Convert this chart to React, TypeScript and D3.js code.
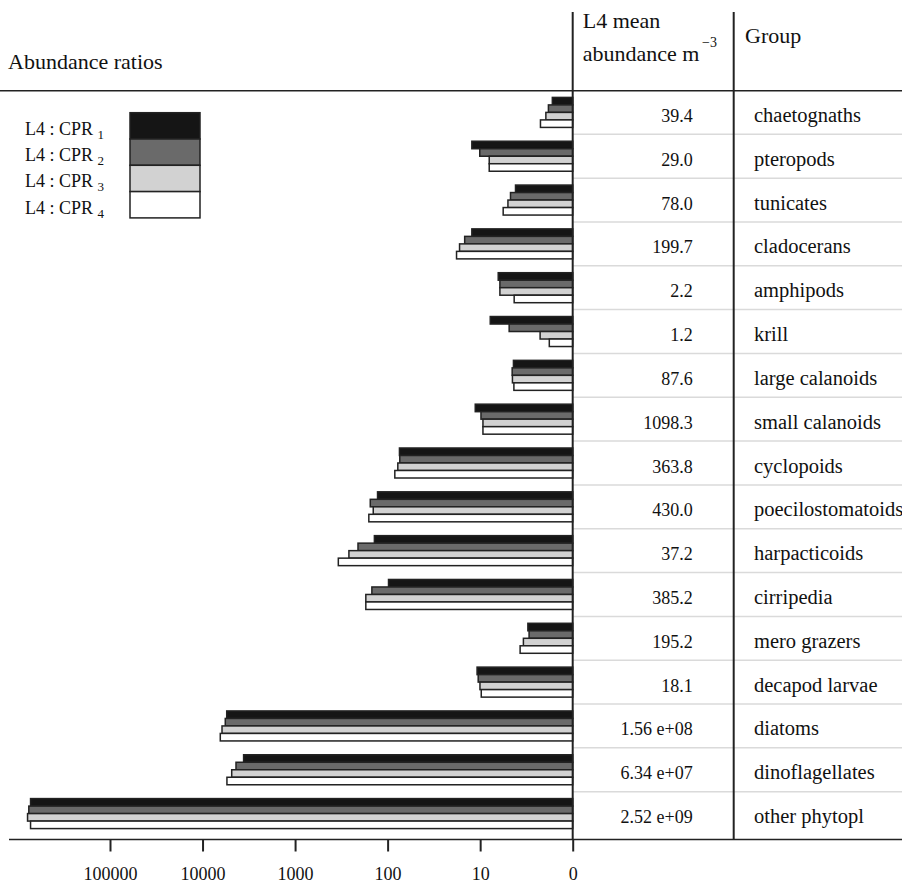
import React, { useRef, useEffect } from 'react';
import * as d3 from 'd3';

const groups = [
  'chaetognaths', 'pteropods', 'tunicates', 'cladocerans', 'amphipods', 'krill',
  'large calanoids', 'small calanoids', 'cyclopoids', 'poecilostomatoids',
  'harpacticoids', 'cirripedia', 'mero grazers', 'decapod larvae', 'diatoms',
  'dinoflagellates', 'other phytopl',
];
const meanAbundance = [
  '39.4', '29.0', '78.0', '199.7', '2.2', '1.2', '87.6', '1098.3', '363.8', '430.0',
  '37.2', '385.2', '195.2', '18.1', '1.56 e+08', '6.34 e+07', '2.52 e+09',
];
const series = ['1', '2', '3', '4'];
const cpr1 = [1.66, 12.3, 4.15, 12.3, 6.38, 7.78, 4.37, 11.3, 74.5, 128.5, 139, 97.8, 3.05, 10.8, 5480, 3600, 722000];
const cpr2 = [1.83, 10.1, 4.70, 14.7, 6.12, 4.86, 4.51, 9.8, 73.9, 154, 209, 148, 2.96, 10.5, 5680, 4350, 754000];
const cpr3 = [1.95, 7.98, 5.01, 16.7, 6.12, 2.25, 4.48, 9.33, 77.6, 143, 262, 172, 3.41, 10.05, 6160, 4840, 778000];
const cpr4 = [2.23, 7.98, 5.64, 18.0, 4.29, 1.79, 4.32, 9.33, 83.6, 159.6, 341, 172, 3.70, 9.73, 6430, 5450, 722000];
const seriesValues = [cpr1, cpr2, cpr3, cpr4];
const tickValues = [1, 10, 100, 1000, 10000, 100000];
const fills = ['#151515', '#6a6a6a', '#d2d2d2', '#ffffff'];

const W = 902;
const H = 884;
const FONT = '"Liberation Serif", "Times New Roman", serif';
const zeroX = 572.7;
const axisY = 839.5;

export default function App() {
  const axisRef = useRef<SVGGElement>(null);

  const x = d3.scaleLog().domain([1, 100000]).range([zeroX, 110]);
  const y = d3.scaleBand<string>().domain(groups).range([90.5, 835.5]);
  const bw = y.bandwidth();
  const inner = d3.scaleBand<string>().domain(series).range([(bw - 30) / 2, (bw + 30) / 2]);

  useEffect(() => {
    const g = d3.select(axisRef.current);
    g.selectAll('*').remove();
    g.call(
      d3.axisBottom(x)
        .tickValues(tickValues)
        .tickFormat((d: any) => (d === 1 ? '0' : String(d)))
        .tickSize(12)
        .tickSizeOuter(0)
        .tickPadding(16)
    );
    g.select('.domain').remove();
    g.selectAll('line').attr('stroke', '#222').attr('stroke-width', 2);
    g.selectAll('text')
      .attr('fill', '#111')
      .style('font-family', FONT)
      .style('font-size', '18px');
  }, []);

  return (
    <svg width={W} height={H} style={{ position: 'absolute', left: 0, top: 0, background: '#fff' }}>
      {/* table separators */}
      {groups.slice(1).map((g) => (
        <line key={'sep' + g} x1={zeroX} x2={W} y1={y(g)} y2={y(g)} stroke="#dadada" strokeWidth={1.5} />
      ))}

      {/* bars */}
      {groups.map((g, i) => (
        <g key={g} transform={`translate(0,${y(g)})`}>
          {series.map((s, j) => {
            const v = seriesValues[j][i];
            return (
              <rect
                key={s}
                x={x(v)}
                y={inner(s)}
                width={zeroX - x(v)}
                height={inner.bandwidth()}
                fill={fills[j]}
                stroke="#222"
                strokeWidth={1.5}
              />
            );
          })}
        </g>
      ))}

      {/* frame lines */}
      <line x1={0} x2={W} y1={90.7} y2={90.7} stroke="#222" strokeWidth={1.5} />
      <line x1={9} x2={W} y1={axisY} y2={axisY} stroke="#222" strokeWidth={1.5} />
      <line x1={zeroX} x2={zeroX} y1={12} y2={axisY} stroke="#222" strokeWidth={2} />
      <line x1={733.7} x2={733.7} y1={12} y2={axisY} stroke="#222" strokeWidth={2} />

      <g ref={axisRef} transform={`translate(0,${axisY})`} />

      {/* headers */}
      <g fill="#111" style={{ fontFamily: FONT, fontSize: 22 }}>
        <text x={8} y={69}>Abundance ratios</text>
        <text x={582.7} y={28}>L4 mean</text>
        <text x={582.7} y={61}>abundance m</text>
        <text x={702} y={47} style={{ fontSize: 14 }}>−3</text>
        <text x={745} y={43}>Group</text>
      </g>

      {/* table text */}
      <g fill="#111" style={{ fontFamily: FONT }}>
        {groups.map((g, i) => (
          <g key={'t' + g}>
            <text x={692.7} y={(y(g) as number) + bw / 2 + 9.5} textAnchor="end" style={{ fontSize: 18 }}>
              {meanAbundance[i]}
            </text>
            <text x={754} y={(y(g) as number) + bw / 2 + 9.5} style={{ fontSize: 20.5 }}>
              {g}
            </text>
          </g>
        ))}
      </g>

      {/* legend */}
      <g style={{ fontFamily: FONT }} fill="#111">
        {series.map((s, j) => (
          <g key={'lg' + s} transform={`translate(0,${112.7 + j * 26.3})`}>
            <rect x={130} y={0} width={70} height={26.3} fill={fills[j]} stroke="#222" strokeWidth={1.5} />
            <text x={25} y={22} style={{ fontSize: 18 }}>
              L4 : CPR <tspan dy={4} style={{ fontSize: 13 }}>{s}</tspan>
            </text>
          </g>
        ))}
      </g>
    </svg>
  );
}
